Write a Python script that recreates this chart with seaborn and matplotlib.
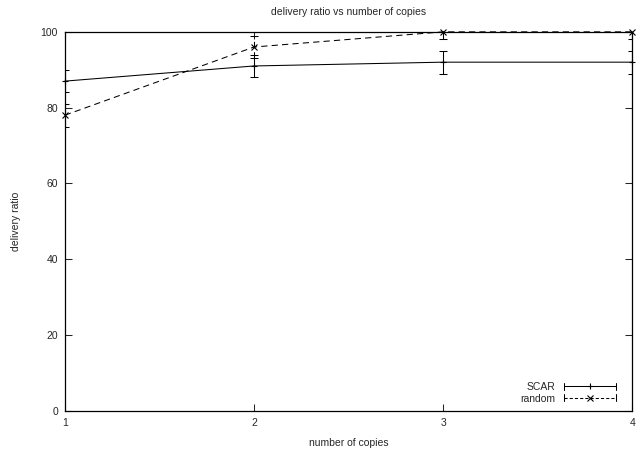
import matplotlib
matplotlib.use("Agg")
import matplotlib.pyplot as plt
import seaborn as sns
import pandas as pd
from matplotlib.legend_handler import HandlerLine2D
from matplotlib.lines import Line2D

# ------------------------------
# Data
# ------------------------------
copies = [1, 2, 3, 4]
scar = [87, 91, 92, 92]
scar_err = [3, 3, 3, 3]
random_ratio = [78, 96, 100, 100]
random_err = [3, 3, 2, 2]

df = pd.DataFrame({
    "copies": copies * 2,
    "ratio": scar + random_ratio,
    "err": scar_err + random_err,
    "method": ["SCAR"] * 4 + ["random"] * 4,
})

sns.set_style("ticks")
plt.rcParams["font.family"] = ["Liberation Sans", "DejaVu Sans"]
plt.rcParams["font.size"] = 7.5


class HandlerErrLine(HandlerLine2D):
    # gnuplot style key sample: line with end ticks and marker in the middle
    def create_artists(self, legend, orig_handle, xdescent, ydescent,
                       width, height, fontsize, trans):
        arts = super().create_artists(legend, orig_handle, xdescent, ydescent,
                                      width, height, fontsize, trans)
        y = height / 2 - ydescent
        for x in (-xdescent, width - xdescent):
            tick = Line2D([x, x], [y - 2.5, y + 2.5], color="black",
                          linewidth=0.75, transform=trans)
            arts.append(tick)
        return arts


fig = plt.figure(figsize=(6.36, 4.55), dpi=100)
ax = fig.add_axes([0.102, 0.097, 0.892, 0.833])

sns.lineplot(data=df, x="copies", y="ratio", hue="method", style="method",
             palette={"SCAR": "black", "random": "black"},
             dashes={"SCAR": "", "random": (6, 4)},
             markers={"SCAR": "+", "random": "x"},
             markersize=5, markeredgewidth=0.8, markeredgecolor="black",
             linewidth=0.75, ax=ax, legend=False, clip_on=False)

for name, vals, errs in [("SCAR", scar, scar_err), ("random", random_ratio, random_err)]:
    eb = ax.errorbar(copies, vals, yerr=errs, fmt="none", ecolor="black",
                     elinewidth=0.75, capsize=3, capthick=0.75)
    if name == "random":
        eb[2][0].set_linestyle((0, (6, 4)))

ax.set_xlim(1, 4)
ax.set_ylim(0, 100)
ax.set_xticks(copies)
ax.set_yticks([0, 20, 40, 60, 80, 100])
ax.tick_params(direction="in", length=5, width=0.75, top=True, right=True,
               labelsize=7.5, pad=5)
for s in ax.spines.values():
    s.set_linewidth(0.9)
    s.set_color("black")

ax.set_title("delivery ratio vs number of copies", fontsize=7.5, pad=12)
ax.set_xlabel("number of copies", fontsize=7.5, labelpad=7)
ax.set_ylabel("delivery ratio", fontsize=7.5, labelpad=14)

h_scar = Line2D([], [], color="black", linewidth=0.75, marker="+",
                markersize=5, markeredgewidth=0.8)
h_rand = Line2D([], [], color="black", linewidth=0.75, marker="x",
                markersize=4, markeredgewidth=0.8, linestyle=(0, (3, 2)))
ax.legend([h_scar, h_rand], ["SCAR", "random"], loc="lower right",
          bbox_to_anchor=(0.984, 0.0),
          frameon=False, markerfirst=False, handlelength=5.0,
          handletextpad=0.8, labelspacing=0.15, borderaxespad=0.3,
          fontsize=7.5,
          handler_map={Line2D: HandlerErrLine()})

plt.savefig("out.png", dpi=100)
